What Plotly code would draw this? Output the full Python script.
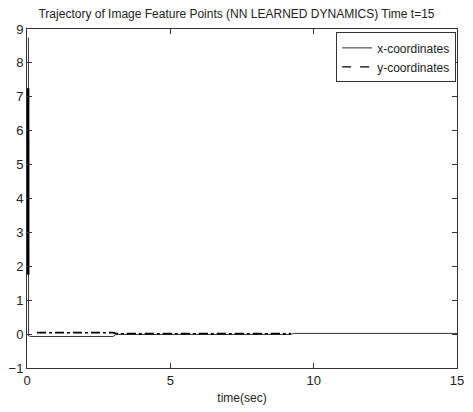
import plotly.graph_objects as go

# Sample times (seconds) for the feature-point x-coordinate trajectories
time = [0.05, 0.052, 0.055, 0.12, 3.0, 3.1, 9.2, 9.3, 15.0]

# x-coordinates of the feature points (fast transient, then settle near zero)
x_coord_a = [8.75, 0.8, -0.05, -0.07, -0.07, -0.01, -0.01, 0.02, 0.02]

# second x-coordinate trajectory during the initial transient
time_b = [0.04, 0.041]
x_coord_b = [7.25, 1.75]

# y-coordinates of the feature points
y_time = [0.35, 3.0, 3.1, 9.2]
y_coord_a = [0.05, 0.05, 0.02, 0.02]
y_coord_b = [0.04, 0.04, 0.01, 0.01]

x_ticks = [0, 5, 10, 15]
y_ticks = [-1, 0, 1, 2, 3, 4, 5, 6, 7, 8, 9]

FONT = "Liberation Sans, Arial"
INK = "#222222"

fig = go.Figure()
fig.add_trace(go.Scatter(x=time, y=x_coord_a, mode="lines", name="x-coordinates",
                         line=dict(color="#333333", width=1)))
fig.add_trace(go.Scatter(x=time_b, y=x_coord_b, mode="lines", showlegend=False,
                         line=dict(color="black", width=2.5)))
fig.add_trace(go.Scatter(x=y_time, y=y_coord_a, mode="lines", name="y-coordinates",
                         line=dict(color="black", width=1.3, dash="dash")))
fig.add_trace(go.Scatter(x=y_time, y=y_coord_b, mode="lines", showlegend=False,
                         line=dict(color="black", width=1.3, dash="dashdot")))

axis_common = dict(showline=True, linecolor="#333333", linewidth=1, mirror="ticks",
                   ticks="inside", ticklen=5, tickcolor="#333333", showgrid=False,
                   zeroline=False, tickfont=dict(family=FONT, size=13, color=INK))

fig.update_layout(
    width=473, height=412,
    margin=dict(l=26, r=9, t=29, b=40),
    paper_bgcolor="white", plot_bgcolor="white",
    title=dict(text="Trajectory of Image Feature Points (NN LEARNED DYNAMICS) Time t=15",
               x=0.5, xanchor="center", y=0.966, yanchor="middle",
               font=dict(family=FONT, size=12, color=INK)),
    xaxis=dict(range=[0, 15], tickvals=x_ticks,
               title=dict(text="time(sec)", standoff=7,
                          font=dict(family=FONT, size=12, color=INK)),
               **axis_common),
    yaxis=dict(range=[-1, 9], tickvals=y_ticks, **axis_common),
    legend=dict(x=0.998, y=0.99, xanchor="right", yanchor="top",
                bordercolor="#333333", borderwidth=1, bgcolor="white",
                font=dict(family=FONT, size=12, color=INK),
                tracegroupgap=0, itemwidth=30),
    showlegend=True,
)

fig.write_html("out.html")
